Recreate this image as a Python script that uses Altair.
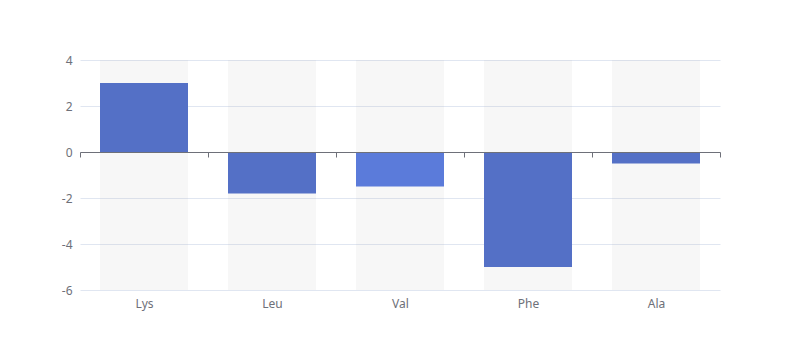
import altair as alt
import pandas as pd

categories = ["Lys", "Leu", "Val", "Phe", "Ala"]
values = [3, -1.8, -1.5, -5, -0.5]
bar_colors = ["#5470c6", "#5470c6", "#5b7bda", "#5470c6", "#5470c6"]
y_ticks = [-6, -4, -2, 0, 2, 4]

df = pd.DataFrame({
    "cat": categories,
    "val": values,
    "color": bar_colors,
    "lo": [y_ticks[0]] * len(categories),
    "hi": [y_ticks[-1]] * len(categories),
})

x_scale = alt.Scale(paddingInner=0, paddingOuter=0)
y_scale = alt.Scale(domain=[y_ticks[0], y_ticks[-1]], nice=False, zero=False)
bar_w = alt.RelativeBandSize(0.6875)

x_axis = alt.Axis(title=None, labelAngle=0, domain=True, ticks=True,
                  tickBand="extent", tickSize=5, tickColor="#6e7079",
                  domainColor="#6e7079", grid=False, offset=-138, zindex=1,
                  labelPadding=141, labelColor="#6e7079", labelFontSize=12,
                  labelFont="Noto Sans")
y_axis = alt.Axis(title=None, values=y_ticks, domain=False, ticks=False,
                  labelPadding=8, labelColor="#6e7079", labelFontSize=12,
                  labelFont="Noto Sans", gridColor="#e0e6f1", gridOpacity=1,
                  labelExpr="datum.value + ''")

X = alt.X("cat:N", sort=categories, scale=x_scale, axis=x_axis)

bg = alt.Chart(df).mark_bar(color="#b4b4b4", opacity=0.1, width=bar_w).encode(
    x=X,
    y=alt.Y("lo:Q", scale=y_scale, axis=y_axis),
    y2="hi:Q",
)

bars = alt.Chart(df).mark_bar(width=bar_w).encode(
    x=X,
    y=alt.Y("val:Q", scale=y_scale, axis=y_axis),
    y2=alt.datum(0),
    color=alt.Color("color:N", scale=None),
)

chart = alt.layer(bg, bars).properties(
    width=640, height=230,
    autosize=alt.AutoSizeParams(type="none"),
    padding={"left": 72, "top": 52, "right": 72, "bottom": 62},
).configure_view(stroke=None)

chart.save("out.html", embed_options={"renderer": "svg", "actions": False})
